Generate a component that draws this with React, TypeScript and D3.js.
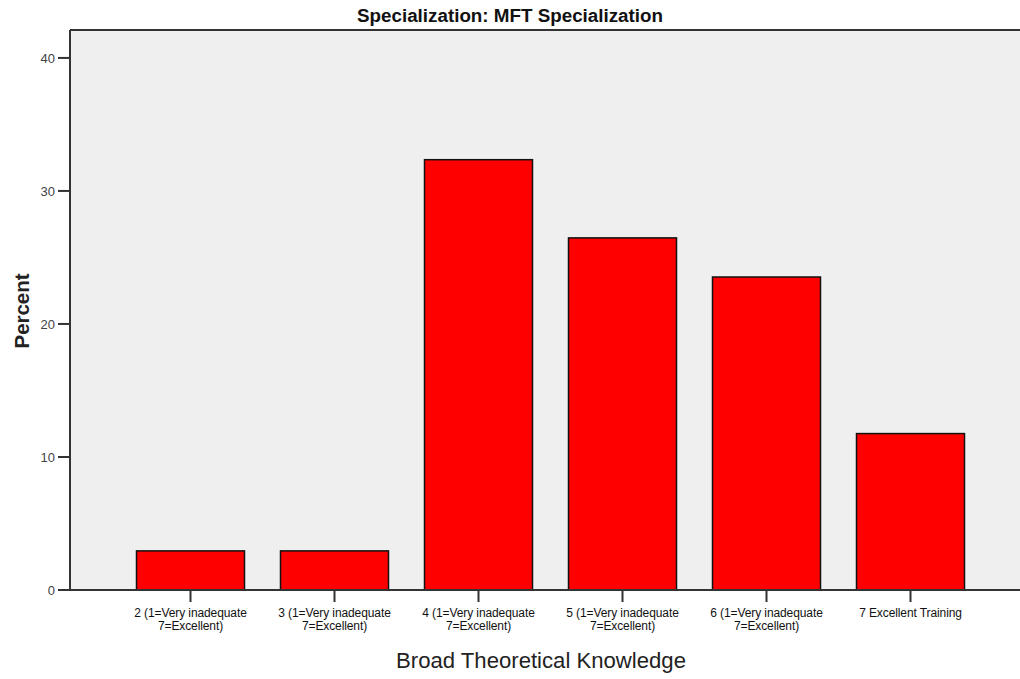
import React from "react";
import * as d3 from "d3";

const categories = [
  ["2 (1=Very inadequate", "7=Excellent)"],
  ["3 (1=Very inadequate", "7=Excellent)"],
  ["4 (1=Very inadequate", "7=Excellent)"],
  ["5 (1=Very inadequate", "7=Excellent)"],
  ["6 (1=Very inadequate", "7=Excellent)"],
  ["7 Excellent Training"],
];
const percents = [2.94, 2.94, 32.35, 26.47, 23.53, 11.76];
const yTicks = [0, 10, 20, 30, 40];
const title = "Specialization: MFT Specialization";
const xTitle = "Broad Theoretical Knowledge";
const yTitle = "Percent";

const W = 1020;
const H = 679;
const left = 70;
const top = 30;
const bottom = 590;
const FONT = "'Liberation Sans', Arial, sans-serif";

export default function App() {
  const y = d3.scaleLinear().domain([0, 42.1]).range([bottom, top]);
  const x = d3
    .scaleBand<number>()
    .domain(categories.map((_, i) => i))
    .range([118.5, 982.5])
    .paddingInner(0.25)
    .paddingOuter(0.125);
  return (
    <svg width={W} height={H} style={{ position: "absolute", left: 0, top: 0, background: "#fff" }}>
      <rect x={left} y={top} width={W - left} height={bottom - top} fill="#efefef" />
      <text x={510} y={22} textAnchor="middle" fontFamily={FONT} fontWeight="bold" fontSize={18} fill="#111"
        textLength={306} lengthAdjust="spacingAndGlyphs">
        {title}
      </text>
      {percents.map((v, i) => (
        <rect
          key={i}
          x={x(i)}
          y={y(v)}
          width={x.bandwidth()}
          height={y(0) - y(v)}
          fill="#ff0000"
          stroke="#111"
          strokeWidth={1.5}
        />
      ))}
      <line x1={left} x2={W} y1={top} y2={top} stroke="#333" strokeWidth={2} />
      <line x1={left} x2={left} y1={top} y2={bottom} stroke="#333" strokeWidth={2} />
      <line x1={left} x2={W} y1={bottom} y2={bottom} stroke="#333" strokeWidth={2} />
      {yTicks.map((t) => (
        <g key={t}>
          <line x1={left - 12} x2={left} y1={y(t)} y2={y(t)} stroke="#333" strokeWidth={2} />
          <text x={left - 15} y={y(t) + 5} textAnchor="end" fontFamily={FONT} fontSize={13} fill="#444">
            {t}
          </text>
        </g>
      ))}
      {categories.map((lines, i) => {
        const cx = (x(i) as number) + x.bandwidth() / 2;
        return (
          <g key={i}>
            <line x1={cx} x2={cx} y1={bottom} y2={bottom + 12} stroke="#333" strokeWidth={2} />
            {lines.map((l, j) => (
              <text key={j} x={cx} y={bottom + 27 + j * 13} textAnchor="middle" fontFamily={FONT} fontSize={12}
                letterSpacing={-0.1} fill="#111">
                {l}
              </text>
            ))}
          </g>
        );
      })}
      <text x={541} y={668} textAnchor="middle" fontFamily={FONT} fontSize={22} fill="#222"
        textLength={290} lengthAdjust="spacingAndGlyphs">
        {xTitle}
      </text>
      <text
        transform={`translate(29,311) rotate(-90)`}
        textAnchor="middle"
        fontFamily={FONT}
        fontWeight="bold"
        fontSize={20}
        fill="#222"
        textLength={75}
        lengthAdjust="spacingAndGlyphs"
      >
        {yTitle}
      </text>
    </svg>
  );
}
